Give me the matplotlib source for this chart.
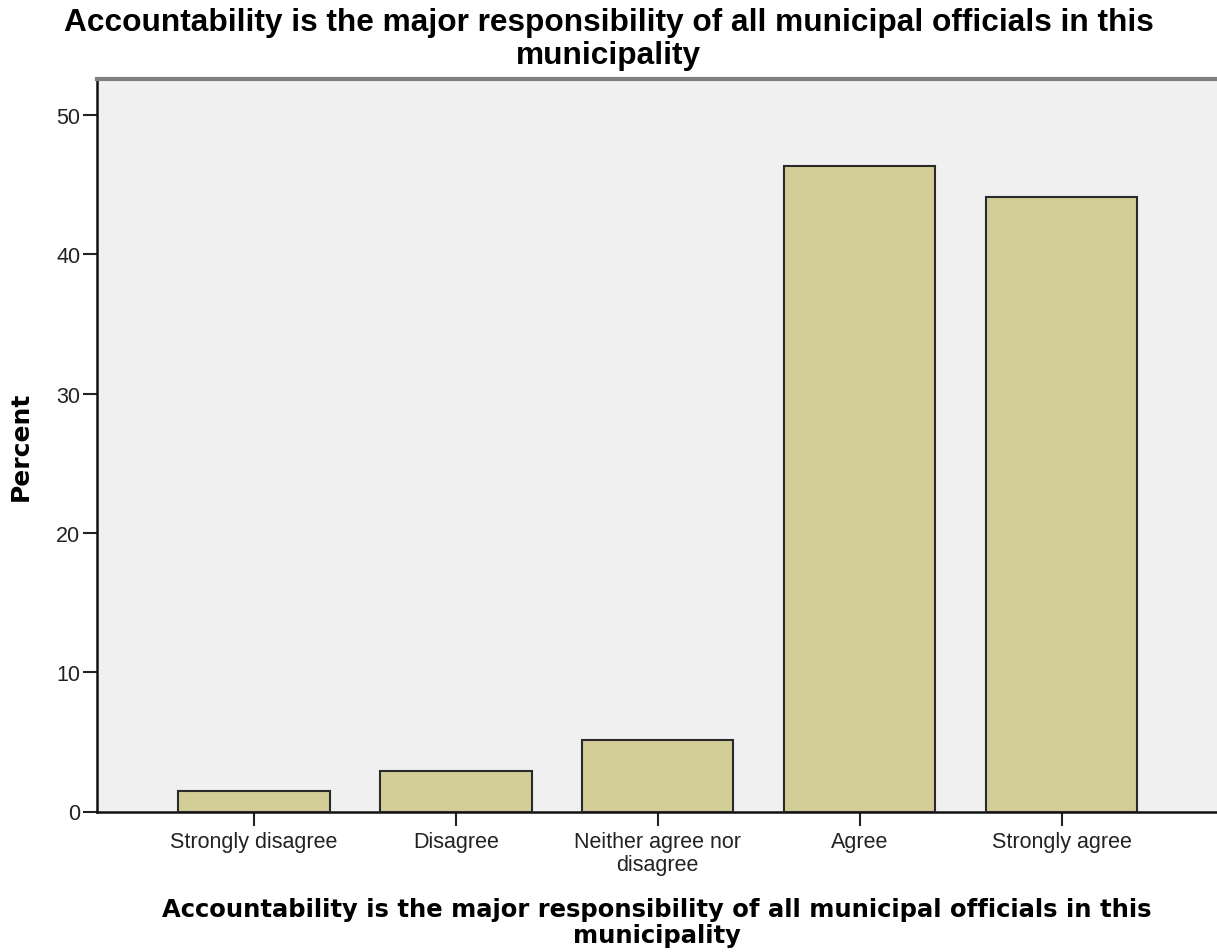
import matplotlib
matplotlib.use("Agg")
import matplotlib.pyplot as plt

categories = ["Strongly disagree", "Disagree", "Neither agree nor\ndisagree",
              "Agree", "Strongly agree"]
percent = [1.47, 2.94, 5.15, 46.32, 44.12]
y_ticks = [0, 10, 20, 30, 40, 50]

title = ("Accountability is the major responsibility of all municipal officials in this\n"
         "municipality")

plt.rcParams["font.family"] = ["Liberation Sans", "DejaVu Sans"]

fig = plt.figure(figsize=(12.17, 9.53), dpi=100)
ax = fig.add_axes([97 / 1217, 1 - 812.5 / 953, 1 - 97 / 1217, (812.5 - 80) / 953])
ax.set_facecolor("#f0f0f0")

x = list(range(len(categories)))
ax.bar(x, percent, width=0.75, color="#d3ce97", edgecolor="#2a2a2a", linewidth=1.5, zorder=3)

ax.set_xlim(-0.777, 4.77)
ax.set_ylim(0, 52.6)
ax.set_xticks(x)
ax.set_xticklabels(categories, fontsize=15.5, linespacing=1.1)
ax.set_yticks(y_ticks)
ax.tick_params(axis="both", length=10, width=1.5, color="#222222", labelcolor="#222222")
ax.tick_params(axis="y", labelsize=15.5, pad=2)
ax.tick_params(axis="x", pad=4)

ax.spines["right"].set_visible(False)
ax.spines["top"].set_color("#808080")
ax.spines["top"].set_linewidth(3)
ax.spines["left"].set_color("#111111")
ax.spines["left"].set_linewidth(1.8)
ax.spines["bottom"].set_color("#111111")
ax.spines["bottom"].set_linewidth(1.8)

ax.set_ylabel("Percent", fontsize=18, fontweight="bold", family="DejaVu Sans", labelpad=17)
ax.set_xlabel(title, fontsize=17.5, fontweight="bold", family="DejaVu Sans",
              linespacing=1.12, labelpad=16)

fig.text(0.5, 1 - 8 / 953, title, ha="center", va="top", fontsize=22.8,
         fontweight="bold", linespacing=1.14)

fig.savefig("out.png", dpi=100)
